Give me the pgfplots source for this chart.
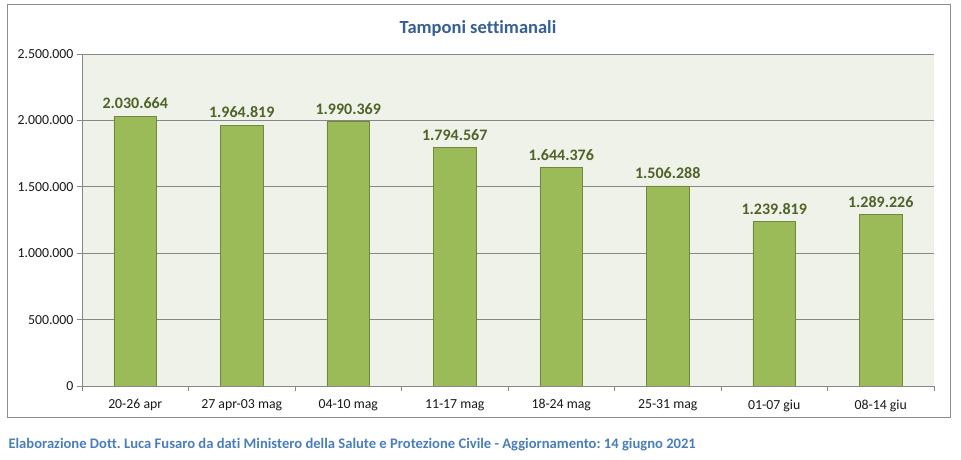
\documentclass[border=0pt]{standalone}
\usepackage{fontspec}
\setmainfont{Carlito}[Ligatures=NoCommon]
\usepackage{pgfplots}
\pgfplotsset{compat=1.18}
\frenchspacing
\definecolor{barfill}{HTML}{9BBB59}
\definecolor{bardraw}{HTML}{71893F}
\definecolor{valc}{HTML}{4F6228}
\definecolor{plotbg}{HTML}{EFF2E9}
\definecolor{gridc}{HTML}{878787}
\definecolor{titlec}{HTML}{366092}
\definecolor{footc}{HTML}{4A7EBB}
\definecolor{framec}{HTML}{8C8C8C}
\begin{document}
\begin{tikzpicture}[x=1pt,y=1pt]
\path[use as bounding box, fill=white] (0,0) rectangle (961,460);
\draw[framec, line width=1pt] (7,42) rectangle (950,455);
\node[font=\fontsize{18.5}{22}\selectfont\bfseries, text=titlec] at (478,432) {Tamponi settimanali};
\node[anchor=west, font=\fontsize{14.6}{17}\selectfont\bfseries, text=footc] at (5,15) {Elaborazione Dott. Luca Fusaro da dati Ministero della Salute e Protezione Civile - Aggiornamento: 14 giugno 2021};
\begin{axis}[
  at={(82pt,74pt)}, anchor=south west, scale only axis,
  width=852pt, height=332pt,
  xmin=-0.5, xmax=7.5, ymin=0, ymax=2500000,
  axis background/.style={fill=plotbg},
  axis x line*=bottom, axis y line*=left,
  axis line style={gridc, line width=0.8pt},
  ymajorgrids, grid style={gridc, line width=0.8pt},
  ytick={0,500000,1000000,1500000,2000000,2500000},
  scaled y ticks=false,
  /pgf/number format/assume math mode=true,
  yticklabel style={/pgf/number format/.cd, fixed, 1000 sep={.}},
  tick label style={font=\fontsize{13.8}{16}\selectfont, text=black!90},
  tick align=outside, major tick length=5pt,
  ytick style={draw=gridc, line width=0.8pt},
  xtick={0,...,7},
  xticklabels={20-26 apr, 27 apr-03 mag, 04-10 mag, 11-17 mag, 18-24 mag, 25-31 mag, 01-07 giu, 08-14 giu},
  xtick style={draw=none},
  xticklabel style={yshift=-5pt},
  extra x ticks={-0.5,0.5,1.5,2.5,3.5,4.5,5.5,6.5,7.5},
  extra x tick labels={},
  extra x tick style={xtick style={draw=gridc, line width=0.8pt}},
  ybar, bar width=0.4,
  point meta=explicit symbolic,
  nodes near coords,
  every node near coord/.append style={font=\fontsize{16}{19}\selectfont\bfseries, text=valc, yshift=3.5pt},
]
\addplot[fill=barfill, draw=bardraw, line width=0.8pt] coordinates {
 (0,2030664)[2.030.664]
 (1,1964819)[1.964.819]
 (2,1990369)[1.990.369]
 (3,1794567)[1.794.567]
 (4,1644376)[1.644.376]
 (5,1506288)[1.506.288]
 (6,1239819)[1.239.819]
 (7,1289226)[1.289.226]
};
\end{axis}
\end{tikzpicture}
\end{document}
